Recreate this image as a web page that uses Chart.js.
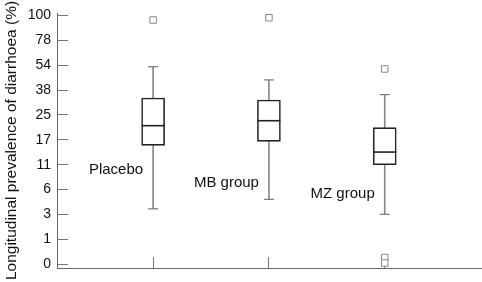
<!DOCTYPE html>
<html><head><meta charset="utf-8">
<script src="https://cdn.jsdelivr.net/npm/chart.js@4/dist/chart.umd.min.js"></script>
<style>html,body{margin:0;padding:0;background:#fff;overflow:hidden}</style>
</head><body>
<canvas id="c" width="482" height="282"></canvas>
<script>
// Categories
const groups = ['Placebo', 'MB group', 'MZ group'];
// Y tick labels (equally spaced transformed scale, one per axis unit)
const tickLabels = ['0', '1', '3', '6', '11', '17', '25', '38', '54', '78', '100'];
// Box-plot statistics, in axis units (tick index)
const whiskerLow  = [2.23, 2.61, 2.01];
const q1          = [4.78, 4.94, 4.00];
const median      = [5.57, 5.77, 4.51];
const q3          = [6.68, 6.60, 5.49];
const whiskerHigh = [7.94, 7.41, 6.82];
// Outliers: group index (1-based) and value in axis units
const outlierGroup = [1, 2, 3, 3, 3];
const outlierValue = [9.82, 9.91, 7.85, 0.27, 0.05];
// Label heights (axis units) for group names
const labelLevel = [3.79, 3.27, 2.83];

const FONT = "'Liberation Sans', Arial, sans-serif";

const groupLabels = {
  id: 'groupLabels',
  afterDatasetsDraw(chart) {
    const {ctx, scales: {x, y}} = chart;
    ctx.save();
    ctx.font = '15px ' + FONT;
    ctx.fillStyle = '#111';
    ctx.textAlign = 'right';
    ctx.textBaseline = 'middle';
    groups.forEach((g, i) => {
      ctx.fillText(g, x.getPixelForValue(i + 1) - 10, y.getPixelForValue(labelLevel[i]));
    });
    ctx.restore();
  }
};

new Chart(document.getElementById('c'), {
  type: 'bar',
  data: {
    datasets: [
      {
        type: 'scatter', label: 'median',
        data: groups.map((g, i) => ({x: i + 1, y: median[i]})),
        pointStyle: 'line', pointRadius: 11.5, borderColor: '#222', borderWidth: 1.6, order: 0
      },
      {
        type: 'scatter', label: 'outliers',
        data: outlierGroup.map((g, i) => ({x: g, y: outlierValue[i]})),
        pointStyle: 'rect', pointRadius: 4.6, backgroundColor: '#fff', borderColor: '#888', borderWidth: 1, order: 0
      },
      {
        type: 'bar', label: 'box',
        data: groups.map((g, i) => ({x: i + 1, y: [q1[i], q3[i]]})),
        barThickness: 23, backgroundColor: '#fff', borderColor: '#222', borderWidth: 1.6,
        borderSkipped: false, grouped: false, order: 1
      },
      {
        type: 'scatter', label: 'caps',
        data: groups.flatMap((g, i) => [{x: i + 1, y: whiskerLow[i]}, {x: i + 1, y: whiskerHigh[i]}]),
        pointStyle: 'line', pointRadius: 5, borderColor: '#777', borderWidth: 1.2, order: 2
      },
      {
        type: 'bar', label: 'whisker',
        data: groups.map((g, i) => ({x: i + 1, y: [whiskerLow[i], whiskerHigh[i]]})),
        barThickness: 1, backgroundColor: '#888', borderWidth: 0, grouped: false, order: 3
      }
    ]
  },
  options: {
    responsive: false,
    animation: false,
    events: [],
    layout: {autoPadding: false, padding: {top: 13, right: 0, bottom: 0, left: 0}},
    plugins: {legend: {display: false}, tooltip: {enabled: false}},
    scales: {
      x: {
        type: 'linear', min: 0.17, max: 3.84, offset: false,
        afterFit(s) { s.height = 14; s.paddingLeft = 0; s.paddingRight = 0; },
        ticks: {display: false, stepSize: 1, includeBounds: false},
        grid: {offset: false, drawOnChartArea: false, drawTicks: true, tickLength: -11, color: '#777'},
        border: {color: '#666', width: 1}
      },
      y: {
        type: 'linear', min: -0.15, max: 10.1,
        afterFit(s) { s.width = 57; s.paddingTop = 0; s.paddingBottom = 0; },
        ticks: {
          stepSize: 1, includeBounds: false, padding: 17, color: '#111',
          font: {family: FONT, size: 14},
          callback: v => tickLabels[v]
        },
        grid: {drawOnChartArea: false, drawTicks: true, tickLength: -11, color: '#777'},
        border: {color: '#666', width: 1},
        title: {
          display: true, text: 'Longitudinal prevalence of diarrhoea (%)',
          color: '#111', font: {family: FONT, size: 15.5}, padding: {top: 2, bottom: 0}
        }
      }
    }
  },
  plugins: [groupLabels]
});
</script>
</body></html>
